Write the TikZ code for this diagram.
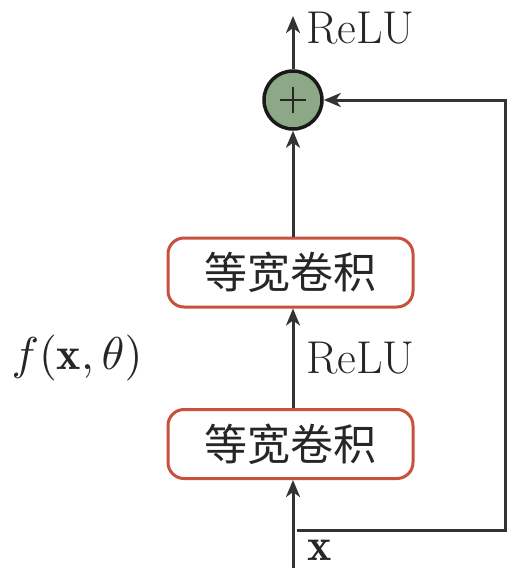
\documentclass[tikz,border=0pt]{standalone}
\usepackage{graphicx}
\usepackage{fontspec}
\newfontfamily\cjk{Noto Sans CJK SC}
\usetikzlibrary{arrows.meta}
\definecolor{linec}{HTML}{333333}
\definecolor{boxred}{HTML}{C8503C}
\definecolor{sumgreen}{HTML}{8CA886}
\begin{document}
\begin{tikzpicture}[x=1pt,y=-1pt,
  conv/.style={draw=boxred,line width=3pt,rounded corners=16pt,minimum width=245pt,minimum height=69pt,inner sep=0pt,font=\fontsize{43}{50}\selectfont\cjk,text=black!85},
  conn/.style={draw=linec,line width=3pt,-{Stealth[length=17pt,width=14pt,inset=5pt]}},
  lbl/.style={font=\fontsize{46}{54}\selectfont,text=black!85,inner sep=0pt}]
\useasboundingbox (0,0) rectangle (507,568);
\node[draw=black!90,line width=3.5pt,fill=sumgreen,circle,minimum size=58pt,inner sep=0pt] (sum) at (293,100) {};
\draw[black!85,line width=1.3pt] (280,100) -- (306,100) (293,87) -- (293,113);
\node[conv] (c2) at (290.5,272.5) {等宽卷积};
\node[conv] (c1) at (290.5,444) {等宽卷积};
\coordinate (top) at (293,16);
\coordinate (bot) at (293,568);
\coordinate (split) at (297,530);
\coordinate (br) at (505,530);
\coordinate (tr) at (505,100);
\draw[conn] (sum) -- (top);
\draw[conn] (c2.north -| sum) -- (sum);
\draw[conn] (c1.north -| sum) -- (c2.south -| sum);
\draw[conn] (bot) -- (c1.south -| sum);
\draw[conn] (split) -- (br) -- (tr) -- (sum);
\node[lbl,anchor=base west] (relu1) at (306,43) {ReLU};
\node[lbl,anchor=base west] (relu2) at (306,373) {ReLU};
\node[text=black!85,inner sep=0pt,anchor=base west] (xl) at (307,560) {\scalebox{4.6}{$\mathbf{x}$}};
\node[text=black!85,inner sep=0pt] (f) at (77,358) {\scalebox{4.6}{$f(\mathbf{x},\theta)$}};
\end{tikzpicture}
\end{document}
